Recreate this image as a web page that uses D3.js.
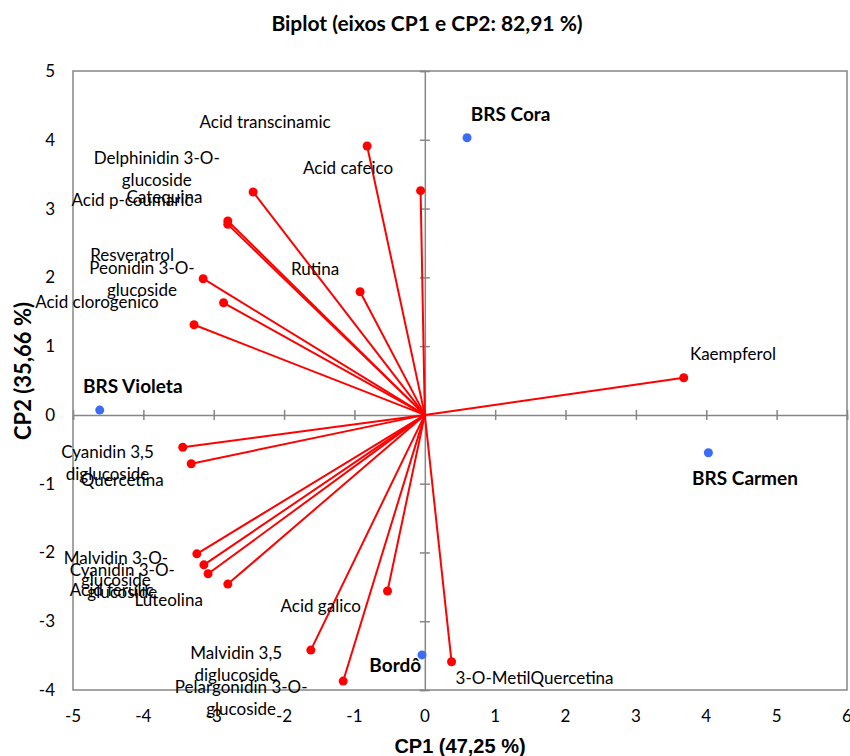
<!DOCTYPE html>
<html>
<head>
<meta charset="utf-8">
<script src="https://cdn.jsdelivr.net/npm/d3@7"></script>
<style>
  body { margin: 0; background: #fff; }
  svg text { font-family: Lato, "Open Sans", sans-serif; fill: #000; }
</style>
</head>
<body>
<div id="chart"></div>
<script>
// variables (red vectors), CP1 / CP2 loadings
var varNames = ['Acid cafeico', 'Acid transcinamic', 'Delphinidin 3-O-|glucoside', 'Catequina', 'Acid p-coumaric',
  'Resveratrol', 'Peonidin 3-O-|glucoside', 'Acid clorogenico', 'Rutina', 'Kaempferol',
  'Cyanidin 3,5|diglucoside', 'Quercetina', 'Malvidin 3-O-|glucoside', 'Cyanidin 3-O-|glucoside', 'Acid ferulic',
  'Luteolina', 'Acid galico', 'Malvidin 3,5|diglucoside', 'Pelargonidin 3-O-|glucoside', '3-O-MetilQuercetina'];
var varCP1 = [-0.82, -0.06, -2.44, -2.80, -2.80, -3.15, -2.86, -3.28, -0.92, 3.68,
  -3.44, -3.32, -3.24, -3.14, -3.08, -2.80, -0.53, -1.62, -1.16, 0.38];
var varCP2 = [3.91, 3.26, 3.24, 2.82, 2.77, 1.98, 1.63, 1.31, 1.79, 0.54,
  -0.47, -0.71, -2.02, -2.18, -2.31, -2.46, -2.56, -3.42, -3.87, -3.59];
// where the labels sit (data units, first line)
var varLabelX = [-1.09, -2.27, -3.81, -3.70, -4.16, -4.16, -4.02, -4.66, -1.56, 4.38,
  -4.51, -4.30, -4.39, -4.30, -4.45, -3.64, -1.48, -2.68, -2.61, 1.56];
var varLabelY = [3.59, 4.26, 3.74, 3.17, 3.13, 2.33, 2.14, 1.64, 2.12, 0.89,
  -0.54, -0.94, -2.08, -2.25, -2.54, -2.69, -2.78, -3.46, -3.95, -3.82];

// observations (blue points)
var obsNames = ['BRS Cora', 'BRS Violeta', 'BRS Carmen', 'Bordô'];
var obsCP1 = [0.60, -4.62, 4.03, -0.04];
var obsCP2 = [4.03, 0.07, -0.55, -3.49];
var obsLabelX = [1.22, -4.15, 4.55, -0.42];
var obsLabelY = [4.38, 0.42, -0.92, -3.63];

var xTicks = [-5, -4, -3, -2, -1, 0, 1, 2, 3, 4, 5, 6];
var yTicks = [-4, -3, -2, -1, 0, 1, 2, 3, 4, 5];

// layout
const W = 850, H = 756;
const margin = {left: 73, right: 3, top: 71, bottom: 66};
const AXIS_COLOR = '#868686';

var svg = d3.select('#chart').append('svg')
  .attr('width', W)
  .attr('height', H);

var x = d3.scaleLinear().domain([-5, 6]).range([margin.left, W - margin.right]);
var y = d3.scaleLinear().domain([-4, 5]).range([H - margin.bottom, margin.top]);

// title
svg.append('text')
  .attr('x', 427).attr('y', 31)
  .attr('text-anchor', 'middle')
  .attr('font-size', 21).attr('font-weight', 'bold')
  .text('Biplot (eixos CP1 e CP2: 82,91 %)');

// plot frame
svg.append('rect')
  .attr('x', x(-5)).attr('y', y(5))
  .attr('width', x(6) - x(-5)).attr('height', y(-4) - y(5))
  .attr('fill', 'none').attr('stroke', AXIS_COLOR).attr('stroke-width', 1.5);

// zero lines with crossing ticks
var xAxisG = svg.append('g').attr('transform', 'translate(0,' + y(0) + ')')
  .call(d3.axisBottom(x).tickValues(xTicks).tickSize(5).tickFormat(''));
var yAxisG = svg.append('g').attr('transform', 'translate(' + x(0) + ',0)')
  .call(d3.axisLeft(y).tickValues(yTicks).tickSize(5).tickFormat(''));
[xAxisG, yAxisG].forEach(function (g) {
  g.select('.domain').attr('stroke', AXIS_COLOR).attr('stroke-width', 1.5);
  g.selectAll('.tick line').attr('stroke', AXIS_COLOR).attr('stroke-width', 1.5);
});
xAxisG.selectAll('.tick line').attr('y1', -5).attr('y2', 5);
yAxisG.selectAll('.tick line').attr('x1', -5).attr('x2', 5);

// tick labels at the frame edges
svg.append('g').selectAll('text').data(xTicks).enter().append('text')
  .attr('x', d => x(d)).attr('y', y(-4) + 32)
  .attr('text-anchor', 'middle').attr('font-size', 17)
  .text(d => d);
svg.append('g').selectAll('text').data(yTicks).enter().append('text')
  .attr('x', x(-5) - 18).attr('y', d => y(d) + 6)
  .attr('text-anchor', 'end').attr('font-size', 17)
  .text(d => d);

// axis titles
svg.append('text')
  .attr('x', (x(-5) + x(6)) / 2).attr('y', 753)
  .attr('text-anchor', 'middle').attr('font-size', 20).attr('font-weight', 'bold')
  .style('font-family', '"Liberation Sans", Arial, sans-serif')
  .text('CP1 (47,25 %)');
svg.append('text')
  .attr('transform', 'translate(31,' + 371 + ') rotate(-90)')
  .attr('text-anchor', 'middle').attr('font-size', 22).attr('font-weight', 'bold')
  .text('CP2 (35,66 %)');

// vectors
var vars = varNames.map((n, i) => ({name: n, cx: varCP1[i], cy: varCP2[i], lx: varLabelX[i], ly: varLabelY[i]}));
var obs = obsNames.map((n, i) => ({name: n, cx: obsCP1[i], cy: obsCP2[i], lx: obsLabelX[i], ly: obsLabelY[i]}));

svg.append('g').selectAll('line').data(vars).enter().append('line')
  .attr('x1', x(0)).attr('y1', y(0))
  .attr('x2', d => x(d.cx)).attr('y2', d => y(d.cy))
  .attr('stroke', '#ff0000').attr('stroke-width', 2);
svg.append('g').selectAll('circle').data(vars).enter().append('circle')
  .attr('cx', d => x(d.cx)).attr('cy', d => y(d.cy))
  .attr('r', 4.5).attr('fill', '#ff0000');

svg.append('g').selectAll('circle').data(obs).enter().append('circle')
  .attr('cx', d => x(d.cx)).attr('cy', d => y(d.cy))
  .attr('r', 4.5).attr('fill', '#3a6cf5');

// labels
var varLabels = svg.append('g').selectAll('text').data(vars).enter().append('text')
  .attr('text-anchor', 'middle').attr('font-size', 17)
  .attr('x', d => x(d.lx)).attr('y', d => y(d.ly) + 6);
varLabels.selectAll('tspan').data(d => d.name.split('|').map(s => ({s: s, d: d}))).enter().append('tspan')
  .attr('x', t => x(t.d.lx))
  .attr('dy', (t, i) => i ? 22 : 0)
  .text(t => t.s);

svg.append('g').selectAll('text').data(obs).enter().append('text')
  .attr('text-anchor', 'middle').attr('font-size', 19).attr('font-weight', 'bold')
  .attr('x', d => x(d.lx)).attr('y', d => y(d.ly) + 7)
  .text(d => d.name);
</script>
</body>
</html>
